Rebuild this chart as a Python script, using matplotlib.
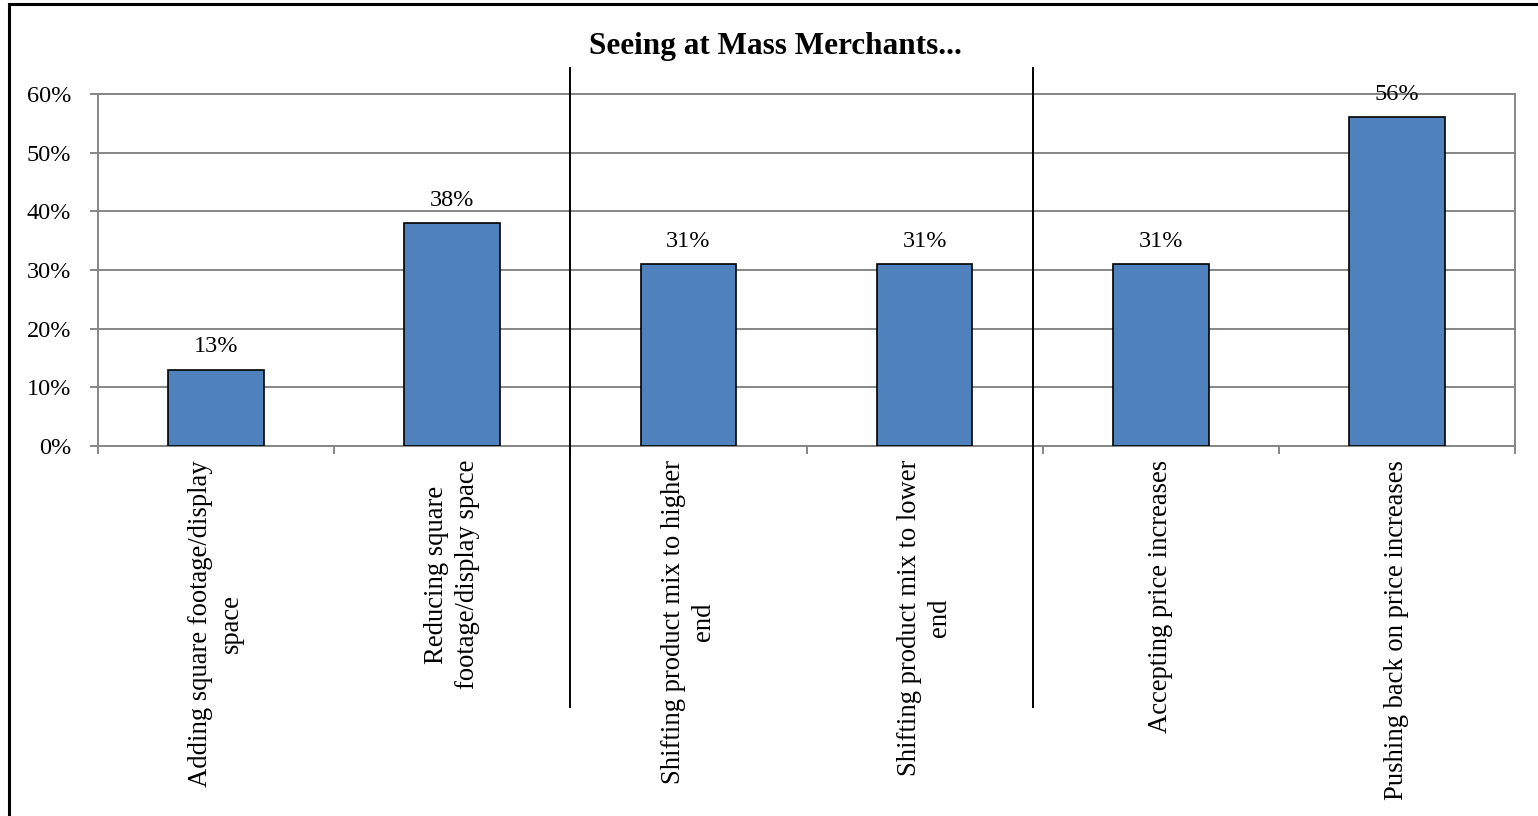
import matplotlib
matplotlib.use("Agg")
import matplotlib.pyplot as plt
from matplotlib.lines import Line2D
from matplotlib.ticker import FixedLocator, PercentFormatter
import matplotlib.transforms as mtransforms

plt.rcParams["font.family"] = ["Liberation Serif", "DejaVu Serif"]

title = "Seeing at Mass Merchants..."
categories = [
    "Adding square footage/display\nspace",
    "Reducing square\nfootage/display space",
    "Shifting product mix to higher\nend",
    "Shifting product mix to lower\nend",
    "Accepting price increases",
    "Pushing back on price increases",
]
values = [13, 38, 31, 31, 31, 56]
y_ticks = [0, 10, 20, 30, 40, 50, 60]
# group dividers sit between category 2|3 and 4|5
dividers = [1.5, 3.46]

BAR_COLOR = "#4F81BD"
GRID_COLOR = "#868686"
FS = 17.5
CAT_FS = 19.2
TITLE_FS = 22.5

fig = plt.figure(figsize=(15.38, 8.16), dpi=100)
ax = fig.add_axes([98 / 1538, 1 - 446 / 816, (1515 - 98) / 1538, (446 - 94) / 816])

x = list(range(len(categories)))
bars = ax.bar(x, values, width=0.405, color=BAR_COLOR, edgecolor="black",
              linewidth=1.2, zorder=3)

for xi, v in zip(x, values):
    ax.annotate(f"{v}%", xy=(xi, v), xytext=(0, 12.5), textcoords="offset points",
                ha="center", va="baseline", fontsize=FS, zorder=4,
                annotation_clip=False)

ax.set_xlim(-0.5, len(categories) - 0.5)
ax.set_ylim(0, 60)
ax.set_yticks(y_ticks)
ax.yaxis.set_major_formatter(PercentFormatter(decimals=0))
ax.grid(axis="y", color=GRID_COLOR, linewidth=1.4, zorder=0)
ax.set_axisbelow(True)

for s in ax.spines.values():
    s.set_color(GRID_COLOR)
    s.set_linewidth(1.4)

ax.set_xticks(x)
ax.set_xticklabels(categories, rotation=90, ha="center", va="top",
                   multialignment="center", fontsize=CAT_FS, linespacing=1.3)
ax.xaxis.set_minor_locator(FixedLocator([i - 0.5 for i in range(len(categories) + 1)]))
ax.tick_params(axis="x", which="major", length=0, pad=10)
ax.tick_params(axis="x", which="minor", length=6, width=1.4, color=GRID_COLOR,
               direction="out")
ax.tick_params(axis="y", which="major", length=6, width=1.4, color=GRID_COLOR,
               direction="out", pad=13.5, labelsize=FS)

# vertical group separators extending beyond the plot area
blend = mtransforms.blended_transform_factory(ax.transData, ax.transAxes)
for d in dividers:
    ax.plot([d, d], [-0.741, 1.074], color="black", linewidth=1.4,
            transform=blend, clip_on=False, zorder=5)

fig.text(775 / 1538, 1 - 54 / 816, title, ha="center", va="baseline",
         fontsize=TITLE_FS, fontweight="bold")

# chart frame (top and left edges)
fig.add_artist(Line2D([8.5 / 1538, 8.5 / 1538], [0, 1 - 4 / 816], color="black",
                      linewidth=2.2, transform=fig.transFigure))
fig.add_artist(Line2D([8.5 / 1538, 1], [1 - 4 / 816, 1 - 4 / 816], color="black",
                      linewidth=2.2, transform=fig.transFigure))

fig.savefig("out.png", dpi=100)
